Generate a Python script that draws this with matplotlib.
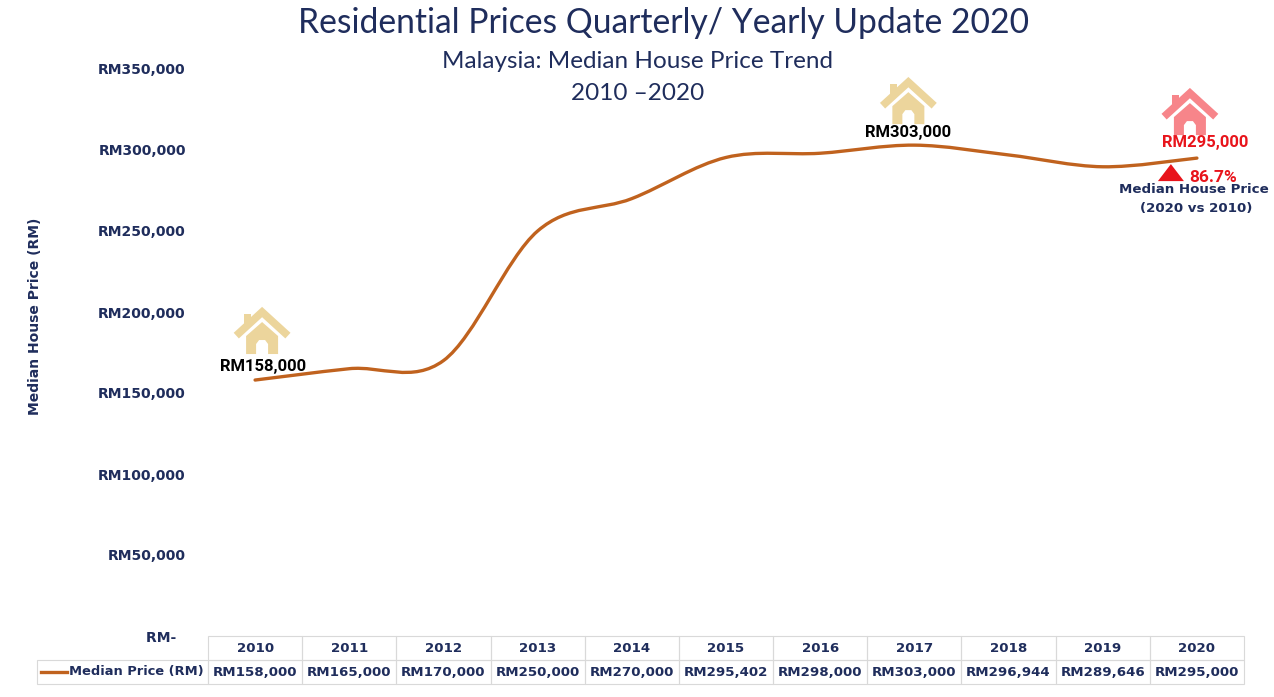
import numpy as np
import matplotlib.pyplot as plt
from matplotlib.path import Path
from matplotlib.patches import PathPatch, Polygon, Rectangle
from matplotlib.lines import Line2D
from matplotlib.transforms import Affine2D

years = ['2010', '2011', '2012', '2013', '2014', '2015', '2016', '2017', '2018', '2019', '2020']
prices = [158000, 165000, 170000, 250000, 270000, 295402, 298000, 303000, 296944, 289646, 295000]
price_labels = ['RM158,000', 'RM165,000', 'RM170,000', 'RM250,000', 'RM270,000', 'RM295,402',
                'RM298,000', 'RM303,000', 'RM296,944', 'RM289,646', 'RM295,000']
y_ticks = [0, 50000, 100000, 150000, 200000, 250000, 300000, 350000]
y_tick_labels = ['RM-  ', 'RM50,000', 'RM100,000', 'RM150,000', 'RM200,000', 'RM250,000',
                 'RM300,000', 'RM350,000']
growth = '86.7%'

W, H = 1274, 697
NAVY = '#1f2d5c'
LINE = '#c0621e'
TAN = '#ecd59c'
PINK = '#f7858a'
RED = '#e8141b'
GRID = '#d9d9d9'

fig = plt.figure(figsize=(W / 100, H / 100), dpi=100)
ax = fig.add_axes([208 / W, 1 - 636 / H, (1244 - 208) / W, (636 - 69) / H])
ax.set_xlim(-0.5, len(years) - 0.5)
ax.set_ylim(0, 350000)
for s in ax.spines.values():
    s.set_visible(False)
ax.set_xticks([])
ax.set_yticks(y_ticks)
ax.set_yticklabels(y_tick_labels, fontsize=10, fontweight='bold', color=NAVY)
ax.tick_params(axis='y', length=0, pad=16)

fig.text(35 / W, 1 - 316 / H, 'Median House Price (RM)', rotation=90, ha='center', va='center',
         fontsize=10, fontweight='bold', color=NAVY)

# smoothed line (cardinal spline as bezier segments)
x = np.arange(len(prices), dtype=float)
y = np.array(prices, dtype=float)
pts = np.column_stack([x, y])
verts = [pts[0]]
codes = [Path.MOVETO]
for i in range(len(pts) - 1):
    p0 = pts[i - 1] if i > 0 else pts[i]
    p1 = pts[i]
    p2 = pts[i + 1]
    p3 = pts[i + 2] if i + 2 < len(pts) else pts[i + 1]
    c1 = p1 + (p2 - p0) / 6
    c2 = p2 - (p3 - p1) / 6
    verts += [c1, c2, p2]
    codes += [Path.CURVE4] * 3
ax.add_patch(PathPatch(Path(verts, codes), fill=False, edgecolor=LINE, lw=2.4, capstyle='round'))


def px(i):
    # display pixel of data point i
    return ax.transData.transform((i, prices[i]))


def house(cx, cy, color):
    # cx, cy in display pixels (centre of icon)
    t = Affine2D().translate(cx, cy)
    fig.add_artist(Line2D([-23, 0, 23], [-1, 20, -1], color=color, lw=5.5,
                          solid_joinstyle='miter', transform=t))
    fig.add_artist(Polygon([(-16, -22), (-16, -4), (0, 10), (16, -4), (16, -22), (6, -22), (6, -12),
                            (3, -8), (-3, -8), (-6, -12), (-6, -22)],
                           closed=True, facecolor=color, edgecolor='none', transform=t))
    fig.add_artist(Rectangle((-18, 7), 7, 11, facecolor=color, edgecolor='none', transform=t))


fig.canvas.draw()

p0 = px(0)
house(p0[0] + 7, p0[1] + 48, TAN)
ax.annotate(price_labels[0], (0, prices[0]), xytext=(8, 14), textcoords='offset pixels',
            ha='center', va='center', fontsize=12, fontweight='bold', family='Roboto')

p7 = px(7)
house(p7[0] - 6, p7[1] + 43, TAN)
ax.annotate(price_labels[7], (7, prices[7]), xytext=(-6, 13), textcoords='offset pixels',
            ha='center', va='center', fontsize=12, fontweight='bold', family='Roboto')

p10 = px(10)
house(p10[0] - 7, p10[1] + 45, PINK)
ax.annotate(price_labels[10], (10, prices[10]), xytext=(8, 16), textcoords='offset pixels',
            ha='center', va='center', fontsize=12, fontweight='bold', family='Roboto', color=RED)
fig.add_artist(Polygon([(-13, -10), (0, 7), (13, -10)], closed=True, facecolor=RED,
                       edgecolor='none', transform=Affine2D().translate(p10[0] - 26, p10[1] - 13)))
ax.annotate(growth, (10, prices[10]), xytext=(16, -19), textcoords='offset pixels',
            ha='center', va='center', fontsize=12.5, fontweight='bold', family='Roboto', color=RED)
ax.annotate('Median House Price', (10, prices[10]), xytext=(-3, -31), textcoords='offset pixels',
            ha='center', va='center', fontsize=9.6, fontweight='bold', color=NAVY)
ax.annotate('(2020 vs 2010)', (10, prices[10]), xytext=(-1, -50), textcoords='offset pixels',
            ha='center', va='center', fontsize=9.6, fontweight='bold', color=NAVY)

# data table under the axes (drawn in figure pixels)
fpx = Affine2D().scale(1, -1).translate(0, H)   # image pixel -> display
col_w = (1244 - 208) / len(years)
rows = [636, 660, 684]
for k in range(len(years)):
    left = 208 + k * col_w
    fig.add_artist(Rectangle((left, rows[0]), col_w, rows[1] - rows[0], fill=False,
                             edgecolor=GRID, lw=0.8, transform=fpx))
    fig.add_artist(Rectangle((left, rows[1]), col_w, rows[2] - rows[1], fill=False,
                             edgecolor=GRID, lw=0.8, transform=fpx))
    fig.text((left + col_w / 2) / W, 1 - (rows[0] + rows[1]) / 2 / H, years[k], ha='center',
             va='center', fontsize=9.6, fontweight='bold', color=NAVY)
    fig.text((left + col_w / 2) / W, 1 - (rows[1] + rows[2]) / 2 / H, price_labels[k],
             ha='center', va='center', fontsize=9.6, fontweight='bold', color=NAVY)
fig.add_artist(Rectangle((37, rows[1]), 208 - 37, rows[2] - rows[1], fill=False,
                         edgecolor=GRID, lw=0.8, transform=fpx))
fig.add_artist(Line2D([41, 67], [(rows[1] + rows[2]) / 2] * 2, color=LINE, lw=2.4,
                      transform=fpx))
fig.text(69 / W, 1 - (rows[1] + rows[2]) / 2 / H, 'Median Price (RM)', ha='left', va='center',
         fontsize=9.4, fontweight='bold', color=NAVY)

fig.text(664 / W, 1 - 23 / H, 'Residential Prices Quarterly/ Yearly Update 2020', ha='center',
         va='center', fontsize=24.2, color=NAVY, family='Lato')
fig.text(638 / W, 1 - 62 / H, 'Malaysia: Median House Price Trend', ha='center', va='center',
         fontsize=17.5, color=NAVY, family='Lato')
fig.text(638 / W, 1 - 94 / H, '2010 \u20132020', ha='center', va='center',
         fontsize=17.5, color=NAVY, family='Lato')

fig.savefig('out.png', dpi=100)
